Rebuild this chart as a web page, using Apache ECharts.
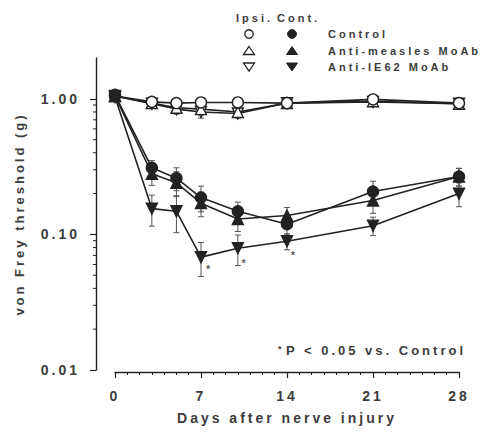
<!DOCTYPE html>
<html>
<head>
<meta charset="utf-8">
<script src="https://cdn.jsdelivr.net/npm/echarts@6/dist/echarts.min.js"></script>
<style>
html,body{margin:0;padding:0;background:#fff}
#c{width:491px;height:433px}
#c svg text{letter-spacing:3px}
</style>
</head>
<body>
<div id="c"></div>
<script>
// ---- data ----
const days = [0, 3, 5, 7, 10, 14, 21, 28];
const xTicks = [0, 7, 14, 21, 28];
const yTicks = [0.01, 0.1, 1];
const yMinorTicks = [0.02,0.03,0.04,0.05,0.06,0.07,0.08,0.09,0.2,0.3,0.4,0.5,0.6,0.7,0.8,0.9];

const ctrlIpsi     = [1.05, 0.95, 0.93, 0.94, 0.94, 0.93, 0.99, 0.93];
const ctrlIpsiErr  = [0.05, 0.08, 0.06, 0.07, 0.05, 0.05, 0.06, 0.05];
const measIpsi     = [1.05, 0.93, 0.86, 0.84, 0.80, 0.93, 0.96, 0.92];
const measIpsiErr  = [0.05, 0.07, 0.07, 0.08, 0.06, 0.05, 0.07, 0.05];
const ie62Ipsi     = [1.05, 0.92, 0.84, 0.80, 0.78, 0.93, 0.95, 0.92];
const ie62IpsiErr  = [0.05, 0.07, 0.07, 0.08, 0.06, 0.05, 0.07, 0.05];

const ctrlCont     = [1.07, 0.31, 0.26, 0.187, 0.148, 0.119, 0.207, 0.267];
const ctrlContErr  = [0.05, 0.04, 0.05, 0.04, 0.025, 0.02, 0.04, 0.04];
const measCont     = [1.05, 0.28, 0.24, 0.17, 0.13, 0.138, 0.178, 0.267];
const measContErr  = [0.05, 0.05, 0.05, 0.035, 0.025, 0.02, 0.035, 0.04];
const ie62Cont     = [1.03, 0.155, 0.148, 0.068, 0.079, 0.089, 0.116, 0.20];
const ie62ContErr  = [0.05, 0.04, 0.045, 0.019, 0.02, 0.012, 0.018, 0.04];

// significance marks (*), placed beside Anti-IE62 contralateral points
const starPos = [[7.7, 0.056], [10.6, 0.062], [14.6, 0.070]];

const legendNames = ['Control', 'Anti-measles MoAb', 'Anti-IE62 MoAb'];

// ---- chart ----
const INK = '#222';
const TXT = '#3c3c3c';
const FONT = '"Liberation Sans", Arial, sans-serif';
const chart = echarts.init(document.getElementById('c'), null, { renderer: 'svg' });

function pairs(vals) { return days.map((d, i) => [d, vals[i]]); }
function errData(vals, errs) { return days.map((d, i) => [d, vals[i] - errs[i], vals[i] + errs[i]]); }

function errSeries(vals, errs) {
  return {
    type: 'custom',
    silent: true,
    clip: false,
    z: 1,
    data: errData(vals, errs),
    encode: { x: 0, y: [1, 2] },
    renderItem: function (params, api) {
      const x = api.value(0);
      const lo = api.coord([x, api.value(1)]);
      const hi = api.coord([x, api.value(2)]);
      const w = 3;
      const st = { stroke: '#555', lineWidth: 1 };
      return {
        type: 'group',
        children: [
          { type: 'line', shape: { x1: lo[0], y1: lo[1], x2: hi[0], y2: hi[1] }, style: st },
          { type: 'line', shape: { x1: lo[0] - w, y1: lo[1], x2: lo[0] + w, y2: lo[1] }, style: st },
          { type: 'line', shape: { x1: hi[0] - w, y1: hi[1], x2: hi[0] + w, y2: hi[1] }, style: st }
        ]
      };
    }
  };
}

function lineSeries(vals, symbol, rotate, filled, z) {
  return {
    type: 'line',
    data: pairs(vals),
    symbol: symbol,
    symbolRotate: rotate,
    symbolSize: 11,
    showAllSymbol: true,
    z: z,
    lineStyle: { color: INK, width: 1.6 },
    itemStyle: { color: filled ? INK : '#fff', borderColor: INK, borderWidth: 1.4 },
    emphasis: { disabled: true },
    animation: false
  };
}

const Y_OFFSET = 19;

const option = {
  backgroundColor: '#fff',
  animation: false,
  grid: { left: 115, right: 32, top: 58, bottom: 63 },
  xAxis: {
    type: 'value',
    min: 0, max: 28, interval: 7,
    offset: 2,
    axisLine: { show: true, onZero: false, lineStyle: { color: INK, width: 1.4 } },
    axisTick: { show: true, length: 6, lineStyle: { color: INK, width: 1.2 } },
    minorTick: { show: true, splitNumber: 7, length: 3, lineStyle: { color: INK, width: 1 } },
    splitLine: { show: false },
    minorSplitLine: { show: false },
    axisLabel: { margin: 17, color: TXT, fontSize: 14, fontWeight: 'bold', fontFamily: FONT },
    name: 'Days after nerve injury',
    nameLocation: 'middle',
    nameGap: 39,
    nameTextStyle: { color: TXT, fontSize: 14, fontWeight: 'bold', fontFamily: FONT }
  },
  yAxis: {
    type: 'log',
    logBase: 10,
    min: 0.01, max: 2,
    offset: Y_OFFSET,
    axisLine: { show: true, onZero: false, lineStyle: { color: INK, width: 1.4 } },
    axisTick: { show: true, length: 6, customValues: yTicks, lineStyle: { color: INK, width: 1.2 } },
    splitLine: { show: false },
    axisLabel: {
      customValues: yTicks,
      margin: 16, color: TXT, fontSize: 14, fontWeight: 'bold', fontFamily: FONT,
      formatter: function (v) { return Number(v).toFixed(2); }
    },
    name: 'von Frey threshold (g)',
    nameLocation: 'middle',
    nameGap: 70,
    nameTextStyle: { color: TXT, fontSize: 13, fontWeight: 'bold', fontFamily: FONT }
  },
  series: [
    // minor log ticks on the y axis
    {
      type: 'custom', silent: true, clip: false, z: 5,
      data: yMinorTicks.map(v => [0, v]),
      encode: { x: 0, y: 1 },
      renderItem: function (params, api) {
        const p = api.coord([0, api.value(1)]);
        const x = p[0] - Y_OFFSET;
        return { type: 'line', shape: { x1: x - 3, y1: p[1], x2: x, y2: p[1] }, style: { stroke: INK, lineWidth: 1 } };
      }
    },
    errSeries(ctrlIpsi, ctrlIpsiErr),
    errSeries(measIpsi, measIpsiErr),
    errSeries(ie62Ipsi, ie62IpsiErr),
    errSeries(ctrlCont, ctrlContErr),
    errSeries(measCont, measContErr),
    errSeries(ie62Cont, ie62ContErr),
    Object.assign(lineSeries(ie62Ipsi, 'triangle', 180, false, 3), { name: 'Anti-IE62 MoAb (ipsi)' }),
    Object.assign(lineSeries(measIpsi, 'triangle', 0, false, 3), { name: 'Anti-measles MoAb (ipsi)' }),
    Object.assign(lineSeries(ctrlIpsi, 'circle', 0, false, 4), { name: 'Control (ipsi)' }),
    Object.assign(lineSeries(ie62Cont, 'triangle', 180, true, 5), { name: 'Anti-IE62 MoAb (cont)' }),
    Object.assign(lineSeries(measCont, 'triangle', 0, true, 6), { name: 'Anti-measles MoAb (cont)' }),
    Object.assign(lineSeries(ctrlCont, 'circle', 0, true, 7), { name: 'Control (cont)' }),
    {
      type: 'scatter', silent: true, z: 8,
      data: starPos,
      symbol: 'circle', symbolSize: 1,
      itemStyle: { color: 'rgba(0,0,0,0)' },
      label: { show: true, formatter: '*', position: 'inside', color: '#333', fontSize: 11, fontWeight: 'bold', fontFamily: FONT }
    }
  ],
  graphic: [
    { type: 'text', left: 236, top: 12, style: { text: 'Ipsi.', fill: TXT, font: 'bold 11px ' + FONT } },
    { type: 'text', left: 277, top: 12, style: { text: 'Cont.', fill: TXT, font: 'bold 11px ' + FONT } },
    // row 1: Control
    { type: 'circle', shape: { cx: 249, cy: 34, r: 4.2 }, style: { fill: '#fff', stroke: INK, lineWidth: 1.3 } },
    { type: 'circle', shape: { cx: 292, cy: 34, r: 4.4 }, style: { fill: INK, stroke: INK, lineWidth: 1 } },
    { type: 'text', left: 328, top: 28, style: { text: legendNames[0], fill: TXT, font: 'bold 11px ' + FONT } },
    // row 2: Anti-measles
    { type: 'polygon', shape: { points: [[249, 46.5], [254.5, 54.5], [243.5, 54.5]] }, style: { fill: '#fff', stroke: INK, lineWidth: 1.3 } },
    { type: 'polygon', shape: { points: [[292, 46.5], [297.5, 54.5], [286.5, 54.5]] }, style: { fill: INK, stroke: INK, lineWidth: 1 } },
    { type: 'text', left: 328, top: 45, style: { text: legendNames[1], fill: TXT, font: 'bold 11px ' + FONT } },
    // row 3: Anti-IE62
    { type: 'polygon', shape: { points: [[243.5, 63], [254.5, 63], [249, 71]] }, style: { fill: '#fff', stroke: INK, lineWidth: 1.3 } },
    { type: 'polygon', shape: { points: [[286.5, 63], [297.5, 63], [292, 71]] }, style: { fill: INK, stroke: INK, lineWidth: 1 } },
    { type: 'text', left: 328, top: 61, style: { text: legendNames[2], fill: TXT, font: 'bold 11px ' + FONT } },
    // significance note
    { type: 'text', x: 278, y: 344, style: { text: '*', fill: TXT, font: 'bold 9px ' + FONT } },
    { type: 'text', x: 466, y: 344, style: { text: 'P < 0.05 vs. Control', align: 'right', verticalAlign: 'top', fill: TXT, font: 'bold 13px ' + FONT } }
  ]
};
chart.setOption(option);
</script>
</body>
</html>
